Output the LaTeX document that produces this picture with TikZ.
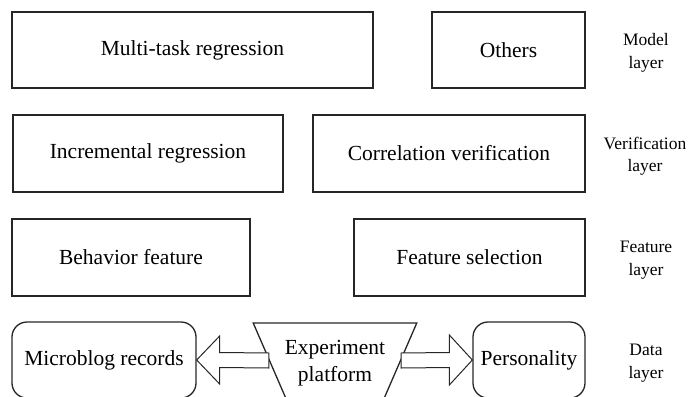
\documentclass[tikz,border=0pt]{standalone}
\usepackage{fontspec}
\setmainfont{Liberation Serif}
\usetikzlibrary{shapes.geometric,calc}

\begin{document}
\begin{tikzpicture}[x=1pt,y=-1pt,
    layerbox/.style={draw=black!85,line width=1.3pt,rectangle,inner sep=0pt,
        font=\fontsize{21.5}{26}\selectfont},
    databox/.style={layerbox,rounded corners=15pt},
    layername/.style={align=center,font=\fontsize{17.5}{22.5}\selectfont},
    fatarrow/.style={draw=black!85,line width=1pt,fill=white,line join=miter}]
\useasboundingbox (0,0) rectangle (690,396);

% model layer
\node[layerbox,minimum width=361pt,minimum height=76pt] (M1) at (192.5,50) {Multi-task regression};
\node[layerbox,minimum width=153pt,minimum height=76pt] (M2) at (508.5,50) {Others};
\node[layername] (L1) at (646,53) {Model\\layer};

% verification layer
\node[layerbox,minimum width=270pt,minimum height=77pt] (V1) at (148,153.5) {Incremental regression};
\node[layerbox,minimum width=272pt,minimum height=77pt] (V2) at (449,153.5) {Correlation verification};
\node[layername] (L2) at (645,156) {Verification\\layer};

% feature layer
\node[layerbox,minimum width=238pt,minimum height=77pt] (F1) at (131,257.5) {Behavior feature};
\node[layerbox,minimum width=231pt,minimum height=77pt] (F2) at (469.5,257.5) {Feature selection};
\node[layername] (L3) at (646,260) {Feature\\layer};

% data layer
\node[databox,minimum width=184pt,minimum height=76pt] (D1) at (104,360) {Microblog records};
\node[layerbox,trapezium,shape border rotate=180,trapezium angle=70,trapezium stretches=true,
    minimum width=164pt,minimum height=75pt] (D2) at (335,360.5) {\phantom{X}};
\node[align=center,font=\fontsize{21.5}{27}\selectfont] (D2t) at (D2.center) [yshift=-3pt] {Experiment\\platform};
\node[databox,minimum width=112pt,minimum height=76pt] (D3) at (529,360) {Personality};
\node[layername] (L4) at (646,363) {Data\\layer};

\draw[fatarrow] ($(D2.west)+(0,-7.5)$) -- ($(D1.east)+(23,-7.5)$) -- ($(D1.east)+(23,-24)$)
    -- (D1.east) -- ($(D1.east)+(23,24)$) -- ($(D1.east)+(23,7.5)$) -- ($(D2.west)+(0,7.5)$) -- cycle;
\draw[fatarrow] ($(D2.east)+(0,-7.5)$) -- ($(D3.west)+(-23,-7.5)$) -- ($(D3.west)+(-23,-25)$)
    -- (D3.west) -- ($(D3.west)+(-23,25)$) -- ($(D3.west)+(-23,7.5)$) -- ($(D2.east)+(0,7.5)$) -- cycle;
\end{tikzpicture}
\end{document}
